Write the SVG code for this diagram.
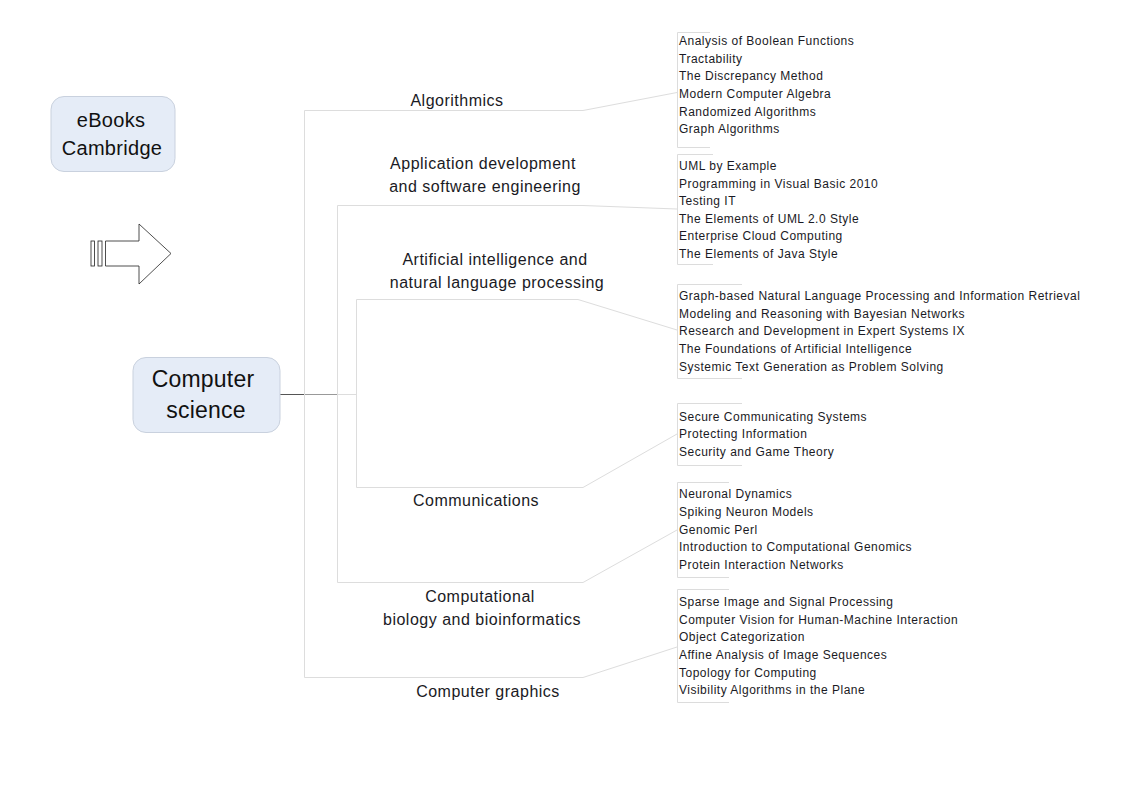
<svg xmlns="http://www.w3.org/2000/svg" width="1123" height="794" viewBox="0 0 1123 794">
<style>
.bg{fill:#ffffff}
.node rect{fill:#e5ecf7;stroke:#c9d1de;stroke-width:1}
.root{font-family:"Liberation Sans",Arial,sans-serif;font-size:23px;fill:#111111;text-anchor:middle;letter-spacing:0.2px}
.title{font-family:"Liberation Sans",Arial,sans-serif;font-size:20px;fill:#111111;text-anchor:middle;letter-spacing:0.3px}
.lbl{font-family:"Liberation Sans",Arial,sans-serif;font-size:16px;fill:#1a1a24;text-anchor:middle;letter-spacing:0.5px}
.item{font-family:"Liberation Sans",Arial,sans-serif;font-size:12px;fill:#1a1a24;letter-spacing:0.5px}
.br{fill:none;stroke:#dcdcdc;stroke-width:1}
.con{fill:none;stroke:#dddddd;stroke-width:1}
.arrow{fill:#ffffff;stroke:#222222;stroke-width:0.8}
</style>
<rect class="bg" x="0" y="0" width="1123" height="794"/>

<g id="connectors">
  <line x1="279" y1="394.5" x2="304" y2="394.5" stroke="#555555" stroke-width="1"/>
  <line x1="304" y1="394.5" x2="337" y2="394.5" stroke="#999999" stroke-width="1"/>
  <line x1="337" y1="394.5" x2="356" y2="394.5" stroke="#dddddd" stroke-width="1"/>
  <path class="con" d="M304.5,110.5 V677.5"/>
  <path class="con" d="M337.5,205.5 V582.5"/>
  <path class="con" d="M356.5,299.5 V487.5"/>
  <path class="con" d="M304.5,110.5 H583 L677,92.5"/>
  <path class="con" d="M337.5,205.5 H583 L677,209"/>
  <path class="con" d="M356.5,299.5 H578 L677,330"/>
  <path class="con" d="M356.5,487.5 H583 L677,434"/>
  <path class="con" d="M337.5,582.5 H583 L677,530"/>
  <path class="con" d="M304.5,677.5 H583 L677,647"/>
</g>

<g id="arrow">
  <rect class="arrow" x="91" y="241" width="3.5" height="25"/>
  <rect class="arrow" x="98" y="241" width="4" height="25"/>
  <path class="arrow" d="M105.5,241 H139 V224 L171,253.5 L139,284 V266 H105.5 Z"/>
</g>

<g id="node-ebooks" class="node">
  <rect x="51" y="96.5" width="124" height="75" rx="13" ry="13"/>
  <text class="title" x="111" y="127">eBooks</text>
  <text class="title" x="112" y="155">Cambridge</text>
</g>

<g id="node-root" class="node">
  <rect x="133" y="357.5" width="147" height="75" rx="13" ry="13"/>
  <text class="root" x="203" y="387">Computer</text>
  <text class="root" x="206" y="418">science</text>
</g>

<g id="node-algorithmics">
  <text class="lbl" x="457" y="106">Algorithmics</text>
  <path class="br" d="M710,32.5 H677.5 V147.5 H710"/>
  <text class="item" x="679" y="45">Analysis of Boolean Functions</text>
  <text class="item" x="679" y="63">Tractability</text>
  <text class="item" x="679" y="80">The Discrepancy Method</text>
  <text class="item" x="679" y="98">Modern Computer Algebra</text>
  <text class="item" x="679" y="116">Randomized Algorithms</text>
  <text class="item" x="679" y="133">Graph Algorithms</text>
</g>

<g id="node-appdev">
  <text class="lbl" x="483" y="169">Application development</text>
  <text class="lbl" x="485" y="192">and software engineering</text>
  <path class="br" d="M713,154.5 H677.5 V264.5 H713"/>
  <text class="item" x="679" y="170">UML by Example</text>
  <text class="item" x="679" y="188">Programming in Visual Basic 2010</text>
  <text class="item" x="679" y="205">Testing IT</text>
  <text class="item" x="679" y="223">The Elements of UML 2.0 Style</text>
  <text class="item" x="679" y="240">Enterprise Cloud Computing</text>
  <text class="item" x="679" y="258">The Elements of Java Style</text>
</g>

<g id="node-ai">
  <text class="lbl" x="495" y="265">Artificial intelligence and</text>
  <text class="lbl" x="497" y="288">natural language processing</text>
  <path class="br" d="M742,284.5 H677.5 V378.5 H742"/>
  <text class="item" x="679" y="300">Graph-based Natural Language Processing and Information Retrieval</text>
  <text class="item" x="679" y="318">Modeling and Reasoning with Bayesian Networks</text>
  <text class="item" x="679" y="335">Research and Development in Expert Systems IX</text>
  <text class="item" x="679" y="353">The Foundations of Artificial Intelligence</text>
  <text class="item" x="679" y="371">Systemic Text Generation as Problem Solving</text>
</g>

<g id="node-communications">
  <text class="lbl" x="476" y="506">Communications</text>
  <path class="br" d="M742,403.5 H677.5 V465.5 H742"/>
  <text class="item" x="679" y="421">Secure Communicating Systems</text>
  <text class="item" x="679" y="438">Protecting Information</text>
  <text class="item" x="679" y="456">Security and Game Theory</text>
</g>

<g id="node-compbio">
  <text class="lbl" x="480" y="602">Computational</text>
  <text class="lbl" x="482" y="625">biology and bioinformatics</text>
  <path class="br" d="M729,482.5 H677.5 V577.5 H729"/>
  <text class="item" x="679" y="498">Neuronal Dynamics</text>
  <text class="item" x="679" y="516">Spiking Neuron Models</text>
  <text class="item" x="679" y="534">Genomic Perl</text>
  <text class="item" x="679" y="551">Introduction to Computational Genomics</text>
  <text class="item" x="679" y="569">Protein Interaction Networks</text>
</g>

<g id="node-graphics">
  <text class="lbl" x="488" y="697">Computer graphics</text>
  <path class="br" d="M729,589.5 H677.5 V702.5 H729"/>
  <text class="item" x="679" y="606">Sparse Image and Signal Processing</text>
  <text class="item" x="679" y="624">Computer Vision for Human-Machine Interaction</text>
  <text class="item" x="679" y="641">Object Categorization</text>
  <text class="item" x="679" y="659">Affine Analysis of Image Sequences</text>
  <text class="item" x="679" y="677">Topology for Computing</text>
  <text class="item" x="679" y="694">Visibility Algorithms in the Plane</text>
</g>
</svg>
